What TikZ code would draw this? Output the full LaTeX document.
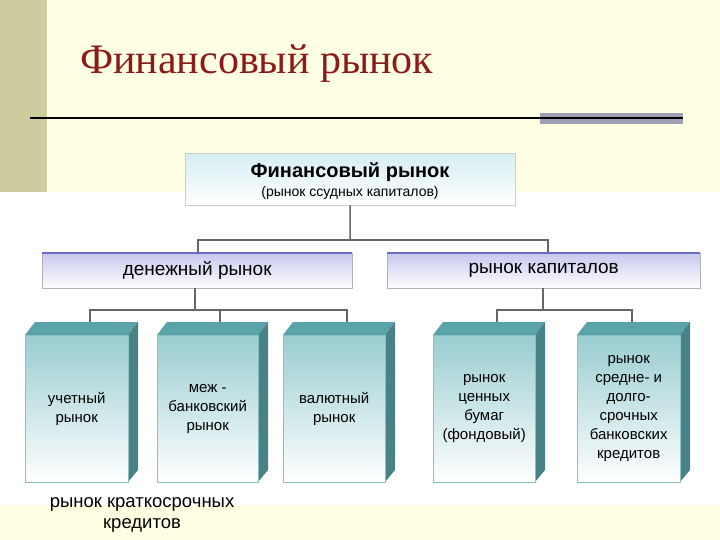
\documentclass[tikz,border=0pt]{standalone}
\usepackage{fontspec}
\setmainfont{Liberation Sans}
\newfontfamily\titlefont{Liberation Serif}
\definecolor{cream}{HTML}{FFFFE3}
\definecolor{olive}{HTML}{CCCC9E}
\definecolor{titlered}{HTML}{8B1A1A}
\definecolor{bartop}{HTML}{A0A0B4}
\definecolor{teal}{HTML}{7FC0C4}
\definecolor{tealdark}{HTML}{5AA3A8}
\definecolor{lav}{HTML}{C8C8EE}
\definecolor{lavedge}{HTML}{6A6AC8}
\definecolor{cyanl}{HTML}{D6EEF2}
\newlength{\mmpx}\setlength{\mmpx}{1pt}
\tikzset{
  conn/.style={draw=gray!80!black, line width=1.5pt},
  lbl/.style={font=\fontsize{15}{19}\selectfont, align=center},
  lvl2/.style={draw=gray!60, top color=lav, bottom color=white, minimum height=35\mmpx, inner sep=0pt, font=\fontsize{19}{21}\selectfont},
}
\newcommand{\threedbox}[4]{% name, x1, x2, text
  \fill[tealdark] (#2,335) -- (#2+10,322) -- (#3+10,322) -- (#3,335) -- cycle;
  \fill[tealdark!80!black] (#3,335) -- (#3+10,322) -- (#3+10,470) -- (#3,482) -- cycle;
  \node[draw=tealdark!70, top color=teal!80, bottom color=white, minimum width={(#3-#2)*\mmpx}, minimum height=147\mmpx, inner sep=0pt, anchor=north west] (#1) at (#2,335) {};
  \node[lbl] at (#1.center) {#4};
}
\begin{document}
\begin{tikzpicture}[x=1pt,y=-1pt]
\useasboundingbox (0,0) rectangle (720,540);
\fill[white] (0,0) rectangle (720,540);
\fill[cream] (0,0) rectangle (720,192);
\fill[cream] (0,505) rectangle (720,540);
\fill[olive] (0,0) rectangle (47,192);
\node[anchor=base west, text=titlered, font=\titlefont\fontsize{42}{46}\selectfont, inner sep=0pt] (title) at (80,74) {Финансовый рынок};
\fill[bartop] (540,113) rectangle (683,124);
\draw[line width=2pt] (30,118) -- (683,118);
% top box
\node[draw=gray!40, top color=cyanl, bottom color=white, minimum width=330\mmpx, minimum height=52\mmpx, inner sep=0pt, anchor=north west] (top) at (185,153) {};
\node[font=\bfseries\fontsize{20}{22}\selectfont] at (350,172) {Финансовый рынок};
\node[font=\fontsize{14}{16}\selectfont] at (350,193) {(рынок ссудных капиталов)};
% level 2
\node[lvl2, minimum width=310\mmpx, anchor=north west] (den) at (42,253) {денежный рынок};
\node[lvl2, minimum width=313\mmpx, anchor=north west] (cap) at (387,253) {рынок капиталов};
\draw[lavedge, line width=2pt] (den.north west) -- (den.north east);
\draw[lavedge, line width=2pt] (cap.north west) -- (cap.north east);
\draw[conn] (top.south) -- (350,240);
\draw[conn] (198,253) -- (198,240) -- (548,240) -- (548,253);
% 3D boxes
\threedbox{b1}{25}{128}{учетный\\рынок}
\threedbox{b2}{157}{258}{меж -\\банковский\\рынок}
\threedbox{b3}{283}{385}{валютный\\рынок}
\threedbox{b4}{433}{535}{рынок\\ценных\\бумаг\\(фондовый)}
\threedbox{b5}{577}{680}{рынок\\средне- и\\долго-\\срочных\\банковских\\кредитов}
\draw[conn] (195,288) -- (195,310);
\draw[conn] (90,322) -- (90,310) -- (347,310) -- (347,322);
\draw[conn] (220,310) -- (220,322);
\draw[conn] (543,288) -- (543,310);
\draw[conn] (497,322) -- (497,310) -- (632,310) -- (632,322);
\node[lbl, font=\fontsize{18.5}{21}\selectfont] (foot) at (142,515) {рынок краткосрочных\\кредитов};
\end{tikzpicture}
\end{document}
